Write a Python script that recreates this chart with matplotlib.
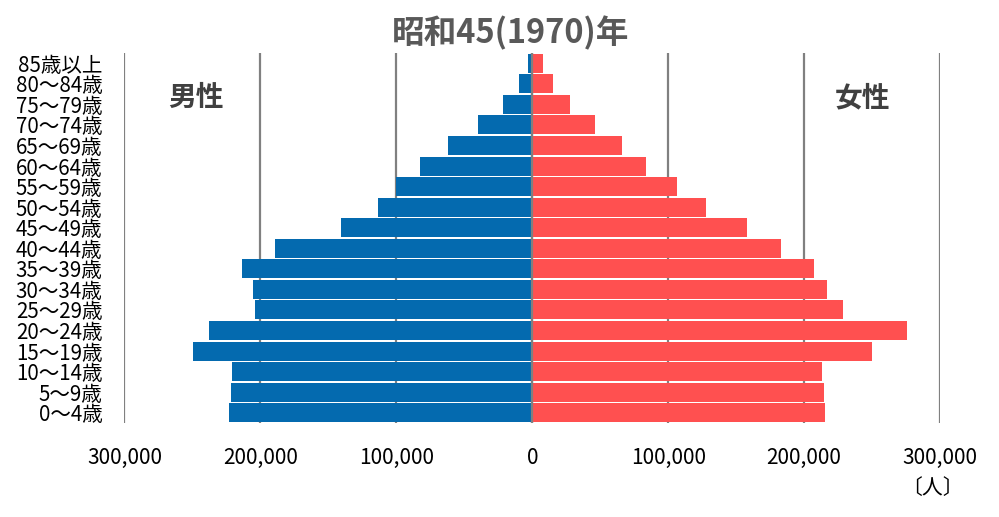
import matplotlib
matplotlib.use("Agg")
import matplotlib.pyplot as plt
import numpy as np

plt.rcParams['font.family'] = ['Noto Sans CJK JP', 'DejaVu Sans']

# 年齢階級（下から上へ）
ages = ["0～4歳", "5～9歳", "10～14歳", "15～19歳", "20～24歳", "25～29歳",
        "30～34歳", "35～39歳", "40～44歳", "45～49歳", "50～54歳", "55～59歳",
        "60～64歳", "65～69歳", "70～74歳", "75～79歳", "80～84歳", "85歳以上"]
male = [223000, 221800, 221100, 249700, 238100, 204200,
        205700, 213800, 189500, 141000, 113800, 100500,
        82800, 62200, 40100, 21200, 9400, 3400]
female = [215000, 214300, 212800, 249600, 276000, 228400,
          216600, 207000, 182700, 157700, 127500, 106200,
          83400, 65700, 45800, 27400, 14900, 8100]
xticks = [-300000, -200000, -100000, 0, 100000, 200000, 300000]

fig = plt.figure(figsize=(9.99, 5.17), dpi=100)
ax = fig.add_axes([0.1246, 0.1818, 0.8164, 0.7157])

y_pos = np.arange(len(ages))
ax.barh(y_pos, -np.array(male), height=0.92, color='#046AAF', zorder=2)
ax.barh(y_pos, female, height=0.92, color='#FF5050', zorder=2)
ax.axvline(0, color='#808080', lw=1.6, zorder=3)

ax.set_xlim(-300000, 300000)
ax.set_ylim(-0.5, len(ages) - 0.5)
ax.set_xticks(xticks)
ax.set_xticklabels(['{:,}'.format(abs(v)) for v in xticks])
ax.set_yticks(y_pos)
ax.set_yticklabels(ages)
ax.tick_params(axis='x', length=0, pad=17, labelsize=15, labelcolor='#000000')
ax.tick_params(axis='y', length=0, pad=16, labelsize=14.8, labelcolor='#000000')
ax.grid(axis='x', color='#808080', lw=1.6, zorder=0)
ax.set_axisbelow(True)
for s in ax.spines.values():
    s.set_visible(False)

fig.text(511 / 999, 1 - 33 / 517, "昭和45(1970)年", ha='center', va='center',
         fontsize=23.5, fontweight='bold', color='#595959')
fig.text(196 / 999, 1 - 98 / 517, "男性", ha='center', va='center',
         fontsize=20, fontweight='bold', color='#404040')
fig.text(863 / 999, 1 - 98 / 517, "女性", ha='center', va='center',
         fontsize=20, fontweight='bold', color='#404040')
fig.text(932 / 999, 1 - 488 / 517, "〔人〕", ha='center', va='center',
         fontsize=15, color='#000000')

fig.savefig("out.png", dpi=100)
